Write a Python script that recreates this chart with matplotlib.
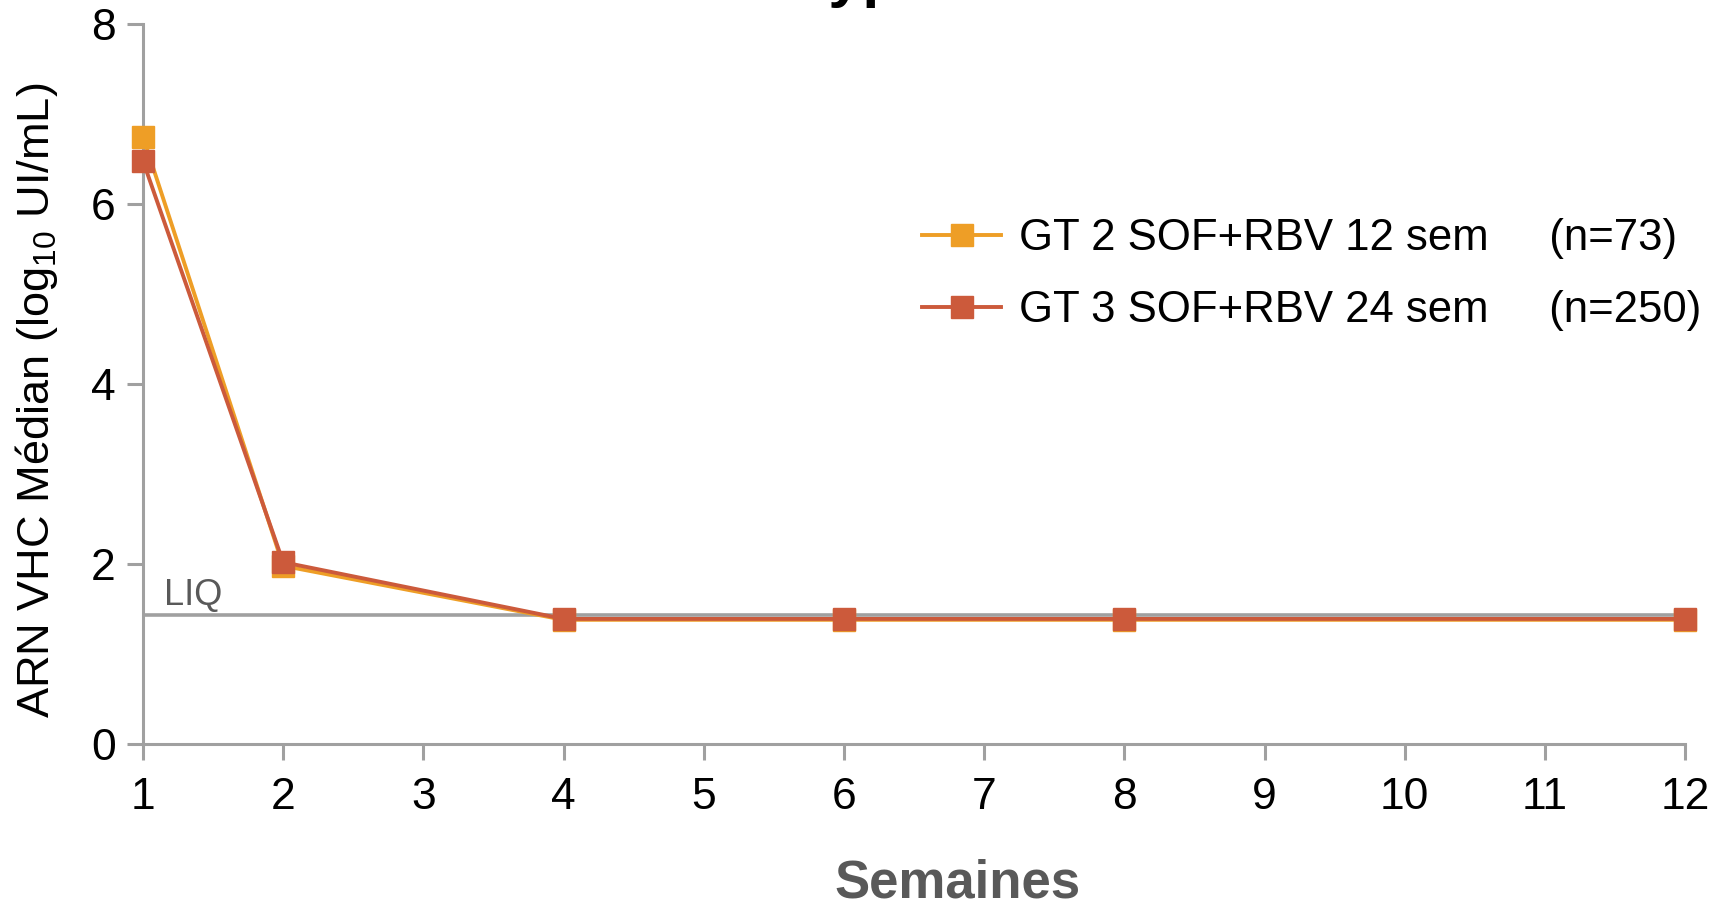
import numpy as np
import matplotlib
matplotlib.use("Agg")
import matplotlib.pyplot as plt

plt.rcParams["font.family"] = ["Liberation Sans", "DejaVu Sans"]
plt.rcParams["mathtext.fontset"] = "custom"
plt.rcParams["mathtext.rm"] = "Liberation Sans"
plt.rcParams["mathtext.default"] = "regular"

# week categories on the x axis
week_labels = ["1", "2", "3", "4", "5", "6", "7", "8", "9", "10", "11", "12"]
weeks = ["1", "2", "4", "6", "8", "12"]

# median HCV RNA (log10 UI/mL)
gt2_values = [6.75, 1.98, 1.38, 1.38, 1.38, 1.38]
gt3_values = [6.48, 2.02, 1.39, 1.39, 1.39, 1.39]
liq_value = 1.43

gt2_label = "GT 2 SOF+RBV 12 sem     (n=73)"
gt3_label = "GT 3 SOF+RBV 24 sem     (n=250)"

orange = "#EE9E26"
red = "#CC5A3B"
axis_gray = "#A0A0A0"
text_gray = "#595959"

fig = plt.figure(figsize=(17.16, 9.06), dpi=100)
ax = fig.add_axes([0.0833, 0.1788, 0.8987, 0.7947])

xpos = [week_labels.index(w) for w in weeks]

ax.axhline(liq_value, color=axis_gray, lw=2.6, zorder=1)
ax.text(0.15, liq_value + 0.03, "LIQ", color=text_gray, fontsize=26,
        ha="left", va="bottom")

ax.plot(xpos, gt2_values, color=orange, lw=2.8, marker="s", markersize=15.5,
        label=gt2_label, zorder=3, clip_on=False)
ax.plot(xpos, gt3_values, color=red, lw=2.8, marker="s", markersize=15.5,
        label=gt3_label, zorder=4, clip_on=False)

ax.set_xlim(0, len(week_labels) - 1)
ax.set_ylim(0, 8)
ax.set_xticks(range(len(week_labels)))
ax.set_xticklabels(week_labels)
ax.set_yticks([0, 2, 4, 6, 8])

for side in ["top", "right"]:
    ax.spines[side].set_visible(False)
for side in ["left", "bottom"]:
    ax.spines[side].set_color(axis_gray)
    ax.spines[side].set_linewidth(2.2)

ax.tick_params(axis="both", colors=axis_gray, width=2.2, length=11.5,
               labelsize=32, labelcolor="black")
ax.tick_params(axis="x", pad=12)
ax.tick_params(axis="y", pad=8)

ax.set_xlabel("Semaines", fontsize=38, fontweight="bold", color=text_gray)
ax.xaxis.set_label_coords(0.558, 0.052, transform=fig.transFigure)
ax.set_ylabel("ARN VHC Médian (log$_{10}$ UI/mL)", fontsize=32.5, color="black")
ax.yaxis.set_label_coords(0.035, 0.558, transform=fig.transFigure)

leg = ax.legend(loc="upper left", bbox_to_anchor=(0.494, 0.755),
                frameon=False, fontsize=31.5, handlelength=1.8,
                handletextpad=0.4, labelspacing=0.72, borderaxespad=0)

# title cut off at the top of the slide
fig.text(0.38, 1.006, "Génotypes 2 et 3", fontsize=44, fontweight="bold",
         ha="left", va="baseline")

fig.savefig("out.png", dpi=100)
